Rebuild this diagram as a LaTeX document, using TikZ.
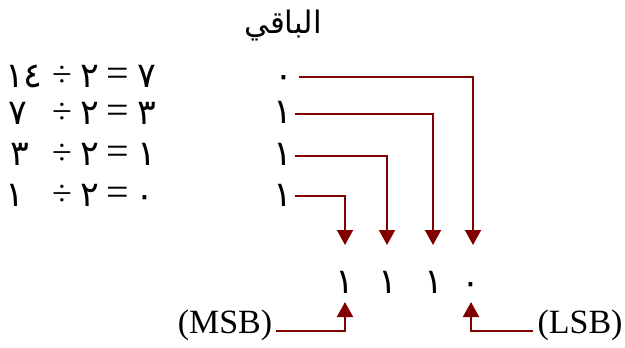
\documentclass[tikz,border=0pt]{standalone}
\usepackage{fontspec}
\setmainfont{Liberation Serif}
\newfontfamily\arabicfont[Script=Arabic]{DejaVu Sans}
\TeXXeTstate=1
\usetikzlibrary{arrows.meta}
\definecolor{linered}{HTML}{800000}
\tikzset{
  ar/.style={font=\arabicfont\fontsize{35}{40}\selectfont, inner sep=0pt},
  hd/.style={font=\arabicfont\fontsize{31}{36}\selectfont, inner sep=0pt},
  dv/.style={font=\fontsize{36}{40}\selectfont, inner sep=0pt},
  eq/.style={font=\fontsize{40}{44}\selectfont, inner sep=0pt},
  lat/.style={font=\fontsize{34}{38}\selectfont, inner sep=0pt},
  rem/.style={ar, inner sep=0pt},
  arr/.style={draw=linered, line width=2pt, -{Triangle[width=16pt,length=15pt]}, fill=none},
}
\begin{document}
\begin{tikzpicture}[x=1pt,y=-1pt]
\useasboundingbox (0,0) rectangle (625,348);
% header
\node[hd] (head) at (283,26) {\beginR الباقي\endR};
% equations row 1
\node[ar] (a1) at (15,76) {١};
\node[ar] (a2) at (33,76) {٤};
\node[dv] (d1) at (62,76) {÷};
\node[ar] (t1) at (90,76) {٢};
\node[eq] (e1) at (118,77) {=};
\node[ar] (q1) at (147,76) {٧};
% row 2
\node[ar] (a3) at (18,113) {٧};
\node[dv] (d2) at (62,113) {÷};
\node[ar] (t2) at (90,113) {٢};
\node[eq] (e2) at (118,114) {=};
\node[ar] (q2) at (147,113) {٣};
% row 3
\node[ar] (a4) at (20,154) {٣};
\node[dv] (d3) at (62,154) {÷};
\node[ar] (t3) at (90,154) {٢};
\node[eq] (e3) at (118,155) {=};
\node[ar] (q3) at (147,154) {١};
% row 4
\node[ar] (a5) at (15,195) {١};
\node[dv] (d4) at (62,195) {÷};
\node[ar] (t4) at (90,195) {٢};
\node[eq] (e4) at (118,196) {=};
\node[ar] (q4) at (145,202) {٠};
% remainders
\node[rem, anchor=east] (r1) at (293,82) {٠};
\node[rem, anchor=east] (r2) at (292,112) {١};
\node[rem, anchor=east] (r3) at (292,154) {١};
\node[rem, anchor=east] (r4) at (292,195) {١};
% bits
\node[ar] (b1) at (345,282) {١};
\node[ar] (b2) at (388,282) {١};
\node[ar] (b3) at (434,282) {١};
\node[ar] (b4) at (471,289) {٠};
% labels
\node[lat] (msb) at (225,325) {(MSB)};
\node[lat] (lsb) at (580,325) {(LSB)};
% connectors
\draw[arr] ([xshift=6pt,yshift=5.5pt]r1.east) -| ([xshift=2pt,yshift=44pt]b4.center);
\draw[arr] ([xshift=3pt,yshift=-1.5pt]r2.east) -| ([xshift=-1pt,yshift=37pt]b3.center);
\draw[arr] ([xshift=3pt,yshift=-1.5pt]r3.east) -| ([xshift=-1pt,yshift=37pt]b2.center);
\draw[arr] ([xshift=3pt,yshift=-1pt]r4.east) -| ([yshift=37pt]b1.center);
\draw[arr] ([xshift=4pt,yshift=-6pt]msb.east) -| ([yshift=-20pt]b1.center);
\draw[arr] ([xshift=-4pt,yshift=-6pt]lsb.west) -| ([yshift=-13pt]b4.center);
\end{tikzpicture}
\end{document}
